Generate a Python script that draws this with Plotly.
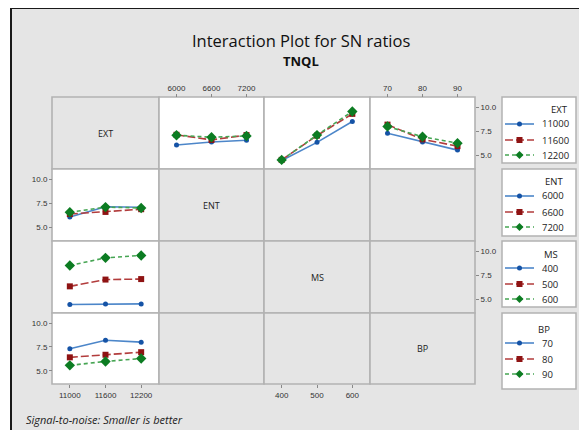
import plotly.graph_objects as go

# The page body adds an 8 px margin, so the figure is laid out in page pixels minus that offset.
OFF = 8
PAGE_W, PAGE_H = 587, 430
W, H = PAGE_W - OFF, PAGE_H - OFF

# ---------------- data ----------------
EXT_levels = [11000, 11600, 12200]
ENT_levels = [6000, 6600, 7200]
MS_levels = [400, 500, 600]
BP_levels = [70, 80, 90]

# mean SN ratio, rows = EXT level, cols = other factor level
sn_ext_ent = [[6.10, 6.40, 6.58],
              [7.15, 6.62, 7.12],
              [7.10, 6.90, 7.03]]
sn_ext_ms = [[4.50, 6.37, 8.52],
             [4.56, 7.07, 9.31],
             [4.56, 7.12, 9.56]]
sn_ext_bp = [[7.30, 6.41, 5.57],
             [8.20, 6.68, 5.98],
             [8.00, 6.95, 6.29]]

y_ticks = [5.0, 7.5, 10.0]
y_ticktext = ["5.0", "7.5", "10.0"]
factor_names = ["EXT", "ENT", "MS", "BP"]
legend_labels = [["11000", "11600", "12200"], ["6000", "6600", "7200"],
                 ["400", "500", "600"], ["70", "80", "90"]]

# ---------------- style ----------------
BG = "#e5e5e5"
BORDER = "#b2b2b2"
FONT = "Open Sans"
TICKFONT = dict(family="Liberation Sans Narrow, Arial Narrow, Liberation Sans", size=8, color="#333333")
styles = [
    dict(mc="#1553a6", lc="#4c86c9", sym="circle", ms=5, dash="solid"),
    dict(mc="#8e1313", lc="#b23c3c", sym="square", ms=6, dash="8px,3px"),
    dict(mc="#0c7c22", lc="#46a553", sym="diamond", ms=8, dash="4px,3px"),
]

xcuts = [52, 159, 264, 370, 475]
ycuts = [97, 169, 241, 313, 384]


def fx(p):
    return (p - OFF) / W


def fy(p):
    return 1 - (p - OFF) / H


def xdom(c):
    return [fx(xcuts[c]), fx(xcuts[c + 1])]


def ydom(r):
    return [fy(ycuts[r + 1]), fy(ycuts[r])]


fig = go.Figure()


def add_series(xvals, series, names, xa, ya):
    for k, (yv, nm) in enumerate(zip(series, names)):
        s = styles[k]
        fig.add_trace(go.Scatter(
            x=xvals, y=yv, name=str(nm), mode="lines+markers",
            xaxis=xa, yaxis=ya, showlegend=False,
            line=dict(color=s["lc"], width=1.6, dash=s["dash"]),
            marker=dict(color=s["mc"], symbol=s["sym"], size=s["ms"]),
            cliponaxis=False,
        ))


def transpose(m):
    return [list(r) for r in zip(*m)]


# row 1 (lines = EXT)
add_series(ENT_levels, sn_ext_ent, EXT_levels, "x2", "y")
add_series(MS_levels, sn_ext_ms, EXT_levels, "x3", "y")
add_series(BP_levels, sn_ext_bp, EXT_levels, "x4", "y")
# column 1 (x = EXT)
add_series(EXT_levels, transpose(sn_ext_ent), ENT_levels, "x", "y2")
add_series(EXT_levels, transpose(sn_ext_ms), MS_levels, "x", "y3")
add_series(EXT_levels, transpose(sn_ext_bp), BP_levels, "x", "y4")

# ---------------- shapes ----------------
shapes = [dict(type="rect", xref="paper", yref="paper", x0=fx(11), x1=1.02, y0=-0.02, y1=fy(8),
               fillcolor=BG, line=dict(color="#1a1a1a", width=2), layer="below")]
data_cells = {(0, 1), (0, 2), (0, 3), (1, 0), (2, 0), (3, 0)}
for r in range(4):
    for c in range(4):
        shapes.append(dict(type="rect", xref="paper", yref="paper",
                           x0=fx(xcuts[c]), x1=fx(xcuts[c + 1]),
                           y0=fy(ycuts[r + 1]), y1=fy(ycuts[r]),
                           fillcolor="white" if (r, c) in data_cells else BG,
                           line=dict(color=BORDER, width=1.6), layer="below"))


def text(t, x, y, size, xanchor="center", color="#222222"):
    return dict(text=t, x=fx(x), y=fy(y), xref="paper", yref="paper", xanchor=xanchor,
                yanchor="middle", showarrow=False, font=dict(family=FONT, size=size, color=color))


# ---------------- annotations ----------------
ann = [
    text("Interaction Plot for SN ratios", 301, 40, 16.5, color="#111111"),
    text("<b>TNQL</b>", 301, 61, 13, color="#111111"),
    text("<i>Signal-to-noise: Smaller is better</i>", 24, 419, 11, xanchor="left"),
]
for i, nm in enumerate(factor_names):
    ann.append(text(nm, (xcuts[i] + xcuts[i + 1]) / 2, (ycuts[i] + ycuts[i + 1]) / 2, 9))

# ---------------- legends (boxes drawn beside the grid) ----------------
box_x0, box_x1 = 502, 576
box_y = [(97, 163), (169, 236), (241, 307), (313, 389)]
title_cx = [559, 554, 551, 544]
title_dy = 13
item_dy = [27, 43, 58]
glyph_x0, glyph_x1 = 505, 534
label_x = 540
for i in range(4):
    y0, y1 = box_y[i]
    shapes.append(dict(type="rect", xref="paper", yref="paper", x0=fx(box_x0), x1=fx(box_x1),
                       y0=fy(y1), y1=fy(y0), fillcolor="white",
                       line=dict(color=BORDER, width=1.5), layer="below"))
    extra = 3 if i == 3 else 0
    ann.append(text(factor_names[i], title_cx[i], y0 + title_dy + extra, 9.5))
    for k in range(3):
        s = styles[k]
        yy = y0 + item_dy[k] + extra
        shapes.append(dict(type="line", xref="paper", yref="paper", x0=fx(glyph_x0), x1=fx(glyph_x1),
                           y0=fy(yy), y1=fy(yy), line=dict(color=s["lc"], width=1.6, dash=s["dash"])))
        cx = (glyph_x0 + glyph_x1) / 2
        r = s["ms"] / 2
        if s["sym"] == "circle":
            shapes.append(dict(type="circle", xref="paper", yref="paper", x0=fx(cx - r), x1=fx(cx + r),
                               y0=fy(yy + r), y1=fy(yy - r), fillcolor=s["mc"], line=dict(width=0)))
        elif s["sym"] == "square":
            shapes.append(dict(type="rect", xref="paper", yref="paper", x0=fx(cx - r), x1=fx(cx + r),
                               y0=fy(yy + r), y1=fy(yy - r), fillcolor=s["mc"], line=dict(width=0)))
        else:
            path = (f"M {fx(cx - r)},{fy(yy)} L {fx(cx)},{fy(yy - r)} "
                    f"L {fx(cx + r)},{fy(yy)} L {fx(cx)},{fy(yy + r)} Z")
            shapes.append(dict(type="path", xref="paper", yref="paper", path=path,
                               fillcolor=s["mc"], line=dict(width=0)))
        ann.append(text(legend_labels[i][k], label_x, yy, 9.5, xanchor="left"))

# ---------------- axes ----------------
common = dict(showgrid=False, zeroline=False, showline=False, ticks="outside", ticklen=3,
              tickcolor="#888888", tickfont=TICKFONT, anchor="free", fixedrange=True)
xranges = [[10700, 12500], [5700, 7500], [350, 650], [65, 95]]
xtv = [EXT_levels, ENT_levels, MS_levels, BP_levels]
xsides = ["bottom", "top", "bottom", "top"]
yr = [3.62, 11.05]
ysides = ["right", "left", "right", "left"]
lay = {}
for c in range(4):
    key = "xaxis" if c == 0 else f"xaxis{c + 1}"
    lay[key] = dict(common, domain=xdom(c), range=xranges[c], tickvals=xtv[c],
                    ticktext=[str(v) for v in xtv[c]], side=xsides[c],
                    position=fy(ycuts[0]) if xsides[c] == "top" else fy(ycuts[4]))
for r in range(4):
    key = "yaxis" if r == 0 else f"yaxis{r + 1}"
    lay[key] = dict(common, domain=ydom(r), range=yr, tickvals=y_ticks,
                    ticktext=y_ticktext, side=ysides[r],
                    position=fx(xcuts[4]) if ysides[r] == "right" else fx(xcuts[0]))

fig.update_layout(width=W, height=H, margin=dict(l=0, r=0, t=0, b=0),
                  paper_bgcolor="white", plot_bgcolor="rgba(0,0,0,0)", showlegend=False,
                  shapes=shapes, annotations=ann, **lay)

fig.write_html("out.html")
